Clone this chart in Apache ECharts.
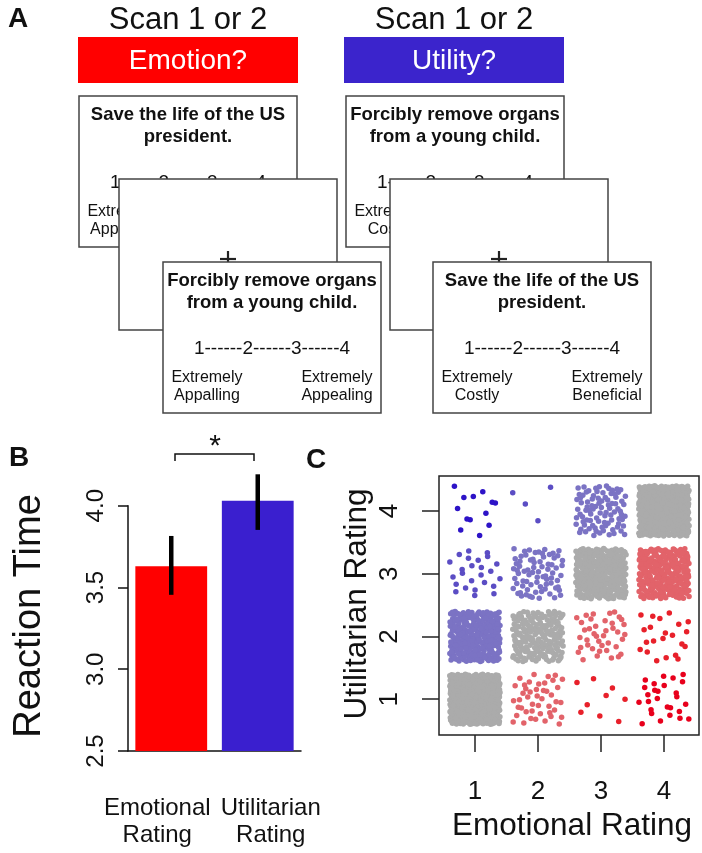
<!DOCTYPE html>
<html><head><meta charset="utf-8">
<script src="https://cdn.jsdelivr.net/npm/echarts@6/dist/echarts.min.js"></script>
<style>html,body{margin:0;padding:0;background:#fff}#c{width:702px;height:853px}</style>
</head><body><div id="c"></div>
<script>
// ---------- Panel B data ----------
const categories = ['Emotional\nRating', 'Utilitarian\nRating'];
const rtMean = [3.63, 4.03];
const rtLow = [3.455, 3.852];
const rtHigh = [3.815, 4.192];
const rtBase = 2.5;
const barColors = ['#ff0000', '#3a1fcf'];
// ---------- Panel C data ----------
const ratingTicks = [1, 2, 3, 4];
// number of trials per cell: rows = utilitarian rating 1..4, cols = emotional rating 1..4
const countsU1 = [520, 45, 9, 27];
const countsU2 = [280, 190, 40, 22];
const countsU3 = [25, 75, 320, 260];
const countsU4 = [13, 4, 90, 480];
const cellCounts = [countsU1, countsU2, countsU3, countsU4];
// colour by (emotional - utilitarian)
const diffColors = {
  '-3': '#2d13c7', '-2': '#5b4dc4', '-1': '#7b73c4', '0': '#ababab',
  '1': '#e2636a', '2': '#e8202a', '3': '#e8001c'
};
const JITTER = 0.4;

// deterministic display jitter (low-discrepancy sequence), not data
function halton(i, b) { let f = 1, r = 0; while (i > 0) { f /= b; r += f * (i % b); i = Math.floor(i / b); } return r; }

const scatterSeries = [];
let offset = 1;
cellCounts.forEach((row, ui) => {
  row.forEach((n, ei) => {
    const e = ei + 1, u = ui + 1;
    const pts = [];
    for (let k = 0; k < n; k++) {
      const idx = offset + k;
      pts.push([e + (halton(idx, 2) * 2 - 1) * JITTER, u + (halton(idx, 3) * 2 - 1) * JITTER]);
    }
    offset += n + 17;
    scatterSeries.push({
      type: 'scatter', xAxisIndex: 1, yAxisIndex: 1, symbolSize: 5.5, data: pts,
      itemStyle: { color: diffColors[String(e - u)], opacity: 1 }, silent: true, animation: false
    });
  });
});

const FONT = 'Liberation Sans, Arial, Helvetica, sans-serif';
const TXT = '#111';
const g = [];
function txt(x, y, s, size, opt) {
  opt = opt || {};
  g.push({ type: 'text', x: x, y: y, rotation: opt.rot || 0, z: opt.z || 10,
    style: { text: s, fontSize: size, fontFamily: FONT, fontWeight: opt.bold ? 'bold' : 'normal',
      fill: opt.fill || TXT, align: opt.align || 'center', verticalAlign: opt.va || 'middle', lineHeight: opt.lh } });
}
function rect(x, y, w, h, fill, stroke, z) {
  g.push({ type: 'rect', z: z, shape: { x: x, y: y, width: w, height: h },
    style: { fill: fill, stroke: stroke || null, lineWidth: stroke ? 1.5 : 0 } });
}
const BW = 218, BH = 151;
function card(x, y, line1, line2, left, right, z) {
  rect(x, y, BW, BH, '#fff', '#444', z);
  const cx = x + BW / 2;
  txt(cx, y + 19, line1, 18.5, { bold: true, z: z });
  txt(cx, y + 41, line2, 18.5, { bold: true, z: z });
  txt(cx, y + 87, '1------2------3------4', 19, { z: z });
  txt(x + 44, y + 116, 'Extremely', 16, { z: z });
  txt(x + 44, y + 134, left, 16, { z: z });
  txt(x + 174, y + 116, 'Extremely', 16, { z: z });
  txt(x + 174, y + 134, right, 16, { z: z });
}
function fixation(x, y, z) {
  rect(x, y, BW, BH, '#fff', '#444', z);
  const cx = x + BW / 2, cy = y + 80;
  g.push({ type: 'line', z: z, shape: { x1: cx - 8, y1: cy, x2: cx + 8, y2: cy }, style: { stroke: '#222', lineWidth: 2.2 } });
  g.push({ type: 'line', z: z, shape: { x1: cx, y1: cy - 8, x2: cx, y2: cy + 8 }, style: { stroke: '#222', lineWidth: 2.2 } });
}
// Panel A
txt(8, 19, 'A', 28, { bold: true, align: 'left' });
txt(188, 20, 'Scan 1 or 2', 31);
txt(454, 20, 'Scan 1 or 2', 31);
rect(78, 37, 220, 46, '#ff0000', null, 10);
txt(188, 61, 'Emotion?', 28, { fill: '#fff', z: 11 });
rect(344, 37, 220, 46, '#3b24cc', null, 10);
txt(454, 61, 'Utility?', 28, { fill: '#fff', z: 11 });
card(79, 96, 'Save the life of the US', 'president.', 'Appalling', 'Appealing', 20);
fixation(119, 179, 30);
card(163, 262, 'Forcibly remove organs', 'from a young child.', 'Appalling', 'Appealing', 40);
card(346, 96, 'Forcibly remove organs', 'from a young child.', 'Costly', 'Beneficial', 20);
fixation(390, 179, 30);
card(433, 262, 'Save the life of the US', 'president.', 'Costly', 'Beneficial', 40);
// Panel B annotations
txt(9, 458, 'B', 28, { bold: true, align: 'left' });
txt(30, 616, 'Reaction Time', 38, { rot: Math.PI / 2 });
g.push({ type: 'polyline', shape: { points: [[175, 461], [175, 454], [254, 454], [254, 461]] }, style: { stroke: '#111', lineWidth: 1.5, fill: null } });
txt(215, 447, '*', 30);
// Panel C annotations
txt(306, 460, 'C', 28, { bold: true, align: 'left' });
txt(357, 604, 'Utilitarian Rating', 31.5, { rot: Math.PI / 2 });
txt(572, 826, 'Emotional Rating', 31.5);

const chart = echarts.init(document.getElementById('c'), null, { renderer: 'canvas' });
chart.setOption({
  animation: false,
  backgroundColor: '#fff',
  textStyle: { fontFamily: FONT },
  grid: [
    { left: 128, top: 505.7, width: 173, height: 245.3 },
    { left: 439, top: 476, width: 260, height: 259, show: true, borderColor: '#222', borderWidth: 1.5, backgroundColor: 'transparent' }
  ],
  xAxis: [
    { type: 'category', gridIndex: 0, data: [
        { value: categories[0], textStyle: { padding: [0, 28, 0, 0] } },
        { value: categories[1], textStyle: { padding: [0, 0, 0, 26] } }],
      axisLine: { lineStyle: { color: '#111', width: 1.5 } }, axisTick: { show: false },
      axisLabel: { fontSize: 24, lineHeight: 27, color: TXT, margin: 44, interval: 0 } },
    { type: 'value', gridIndex: 1, min: 0.43, max: 4.556, axisLine: { show: false }, splitLine: { show: false },
      axisTick: { show: true, length: 17, customValues: ratingTicks, lineStyle: { color: '#222', width: 1.5 } },
      axisLabel: { customValues: ratingTicks, fontSize: 26, color: TXT, margin: 44 } }
  ],
  yAxis: [
    { type: 'value', gridIndex: 0, min: 2.5, max: 4.0, interval: 0.5,
      axisLine: { show: true, lineStyle: { color: '#111', width: 1.5 } },
      axisTick: { show: true, length: 10, lineStyle: { color: '#111', width: 1.5 } },
      axisLabel: { rotate: 90, fontSize: 24, color: TXT, margin: 20, formatter: v => v.toFixed(1) },
      splitLine: { show: false } },
    { type: 'value', gridIndex: 1, min: 0.43, max: 4.556, axisLine: { show: false }, splitLine: { show: false },
      axisTick: { show: true, length: 17, customValues: ratingTicks, lineStyle: { color: '#222', width: 1.5 } },
      axisLabel: { customValues: ratingTicks, rotate: 90, fontSize: 26, color: TXT, margin: 36 } }
  ],
  series: [
    { type: 'custom', xAxisIndex: 0, yAxisIndex: 0, clip: false, z: 3,
      data: rtMean.map((v, i) => [i, v]),
      encode: { x: 0, y: 1 },
      renderItem: function (params, api) {
        const top = api.coord([api.value(0), api.value(1)]);
        const bot = api.coord([api.value(0), rtBase]);
        const w = api.size([1, 0])[0] * 0.83;
        return { type: 'rect', shape: { x: top[0] - w / 2, y: top[1], width: w, height: bot[1] - top[1] },
          style: { fill: barColors[params.dataIndex] } };
      } },
    { type: 'custom', xAxisIndex: 0, yAxisIndex: 0, clip: false, z: 5,
      data: rtMean.map((v, i) => [i, rtLow[i], rtHigh[i]]),
      encode: { x: 0, y: [1, 2] },
      renderItem: function (params, api) {
        const lo = api.coord([api.value(0), api.value(1)]);
        const hi = api.coord([api.value(0), api.value(2)]);
        return { type: 'line', shape: { x1: lo[0], y1: lo[1], x2: hi[0], y2: hi[1] }, style: { stroke: '#000', lineWidth: 4.5 } };
      } }
  ].concat(scatterSeries),
  graphic: g
});
</script></body></html>
